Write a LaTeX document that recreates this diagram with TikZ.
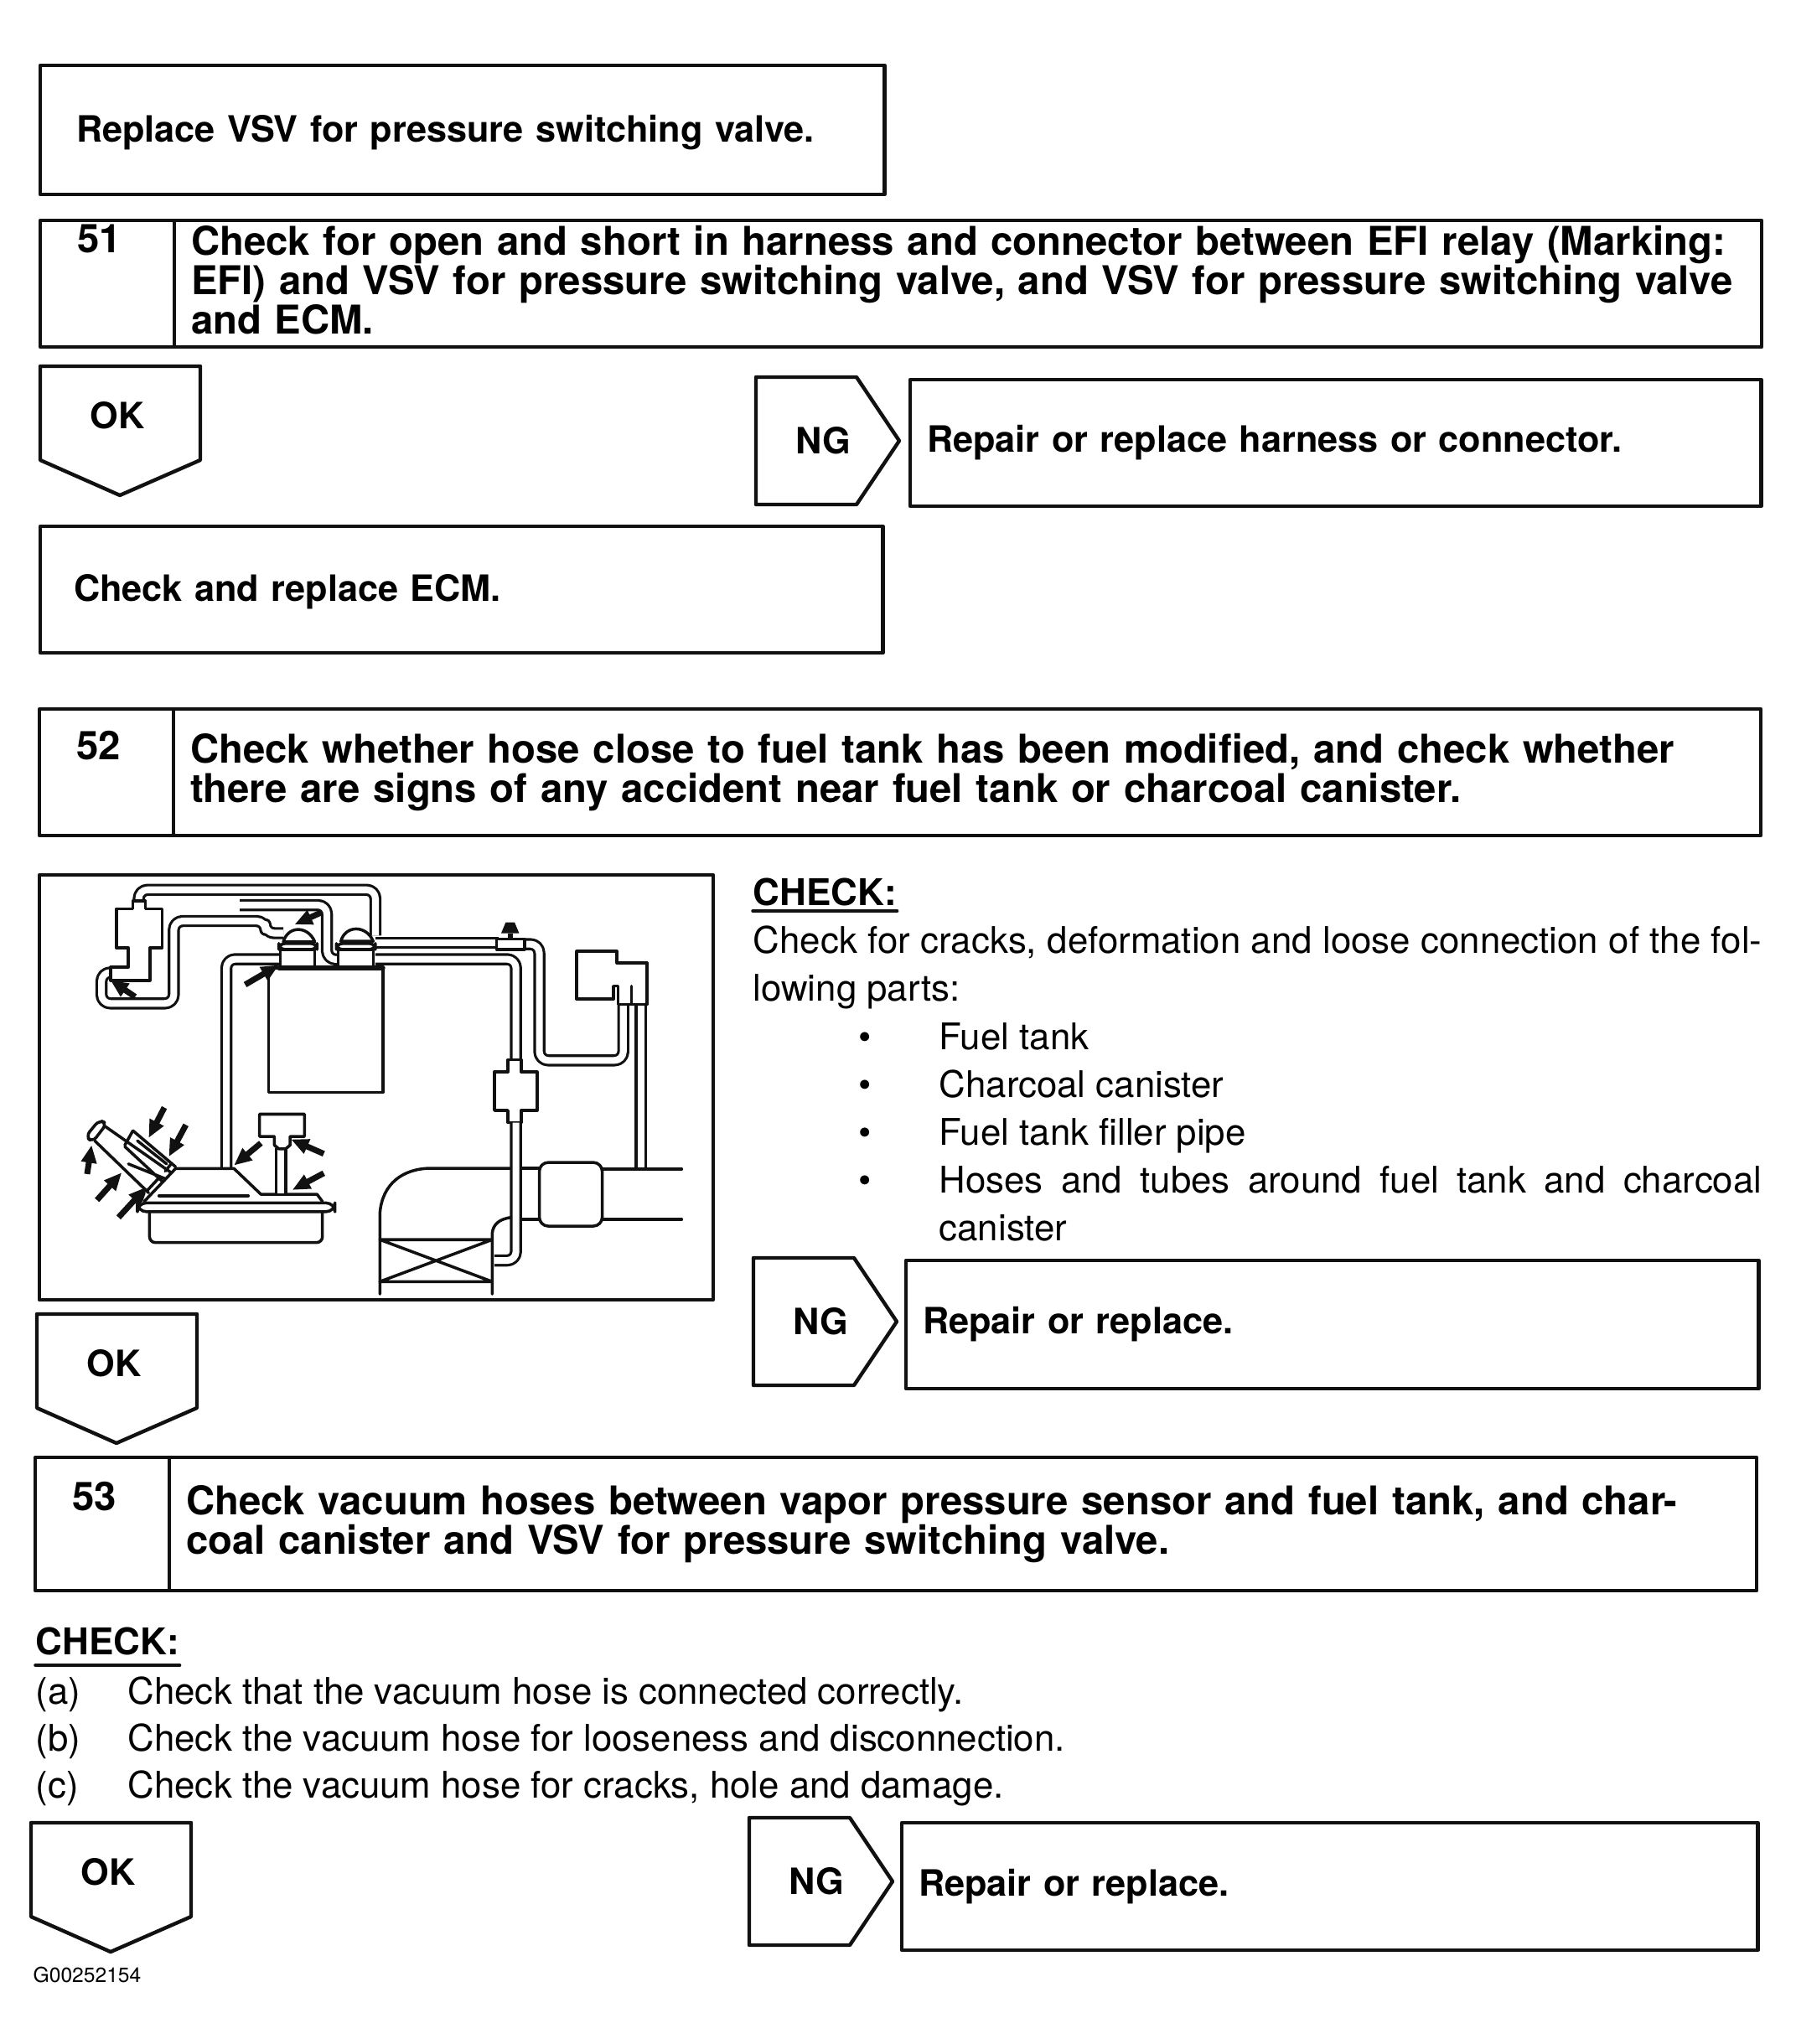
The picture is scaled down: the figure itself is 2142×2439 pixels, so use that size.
\documentclass[tikz,border=0pt]{standalone}
\usepackage{fontspec}
\setmainfont{TeX Gyre Heros}
\usetikzlibrary{arrows.meta, positioning}
\definecolor{ink}{HTML}{111111}
\tikzset{
  every picture/.style={line cap=round, line join=round},
  boxline/.style={draw=ink, line width=1.25pt, outer sep=0pt},
  msgbox/.style n args={3}{boxline, anchor=north west, minimum width=#1cm, minimum height=#2cm,
                text width={#1cm-2*#3cm}, inner xsep=0pt, inner ysep=0pt, align=left, font=\msgfont},
  stepcell/.style n args={2}{msgbox={#1}{#2}{0.2}, font=\headfont},
  numcell/.style n args={2}{boxline, anchor=north west, text width=1.6cm, inner sep=0pt,
                text height=#2cm, text depth={#1cm-#2cm}, align=left, font=\headfont,
                execute at begin node=\hspace*{0.44cm}},
  flagtxt/.style={font=\msgfont, inner sep=0pt},
  head/.style={font=\chkfont, anchor=base west, inner sep=0pt},
  body/.style={font=\bodyfont, anchor=base west, inner sep=0pt},
  % OK and NG symbols
  okflag/.pic={
    \draw[boxline] (0,0) -- (191,0) -- (191,112) -- (95,154) -- (0,112) -- cycle;
    \node[flagtxt] (-txt) at (92,59) {OK};
  },
  ngflag/.pic={
    \draw[boxline] (0,0) -- (120,0) -- (171,76) -- (120,152) -- (0,152) -- cycle;
    \node[flagtxt] (-txt) at (80,76) {NG};
  },
  % drawing
  wire/.style={draw=ink, line width=1pt},
  part/.style={wire, fill=white},
  hose/.style={draw=ink, line width=0.9pt, double=white, double distance=2.3pt, rounded corners=3pt, line cap=butt},
  pointer/.style={draw=ink, line width=2pt, -{Triangle[length=6pt, width=5pt]}, line cap=butt},
}
\newcommand\headfont{\bfseries\fontsize{13.45}{13.3}\selectfont}
\newcommand\msgfont{\bfseries\fontsize{12.3}{13.3}\selectfont}
\newcommand\chkfont{\bfseries\fontsize{12.5}{13.3}\selectfont}
\newcommand\bodyfont{\fontsize{12.45}{14}\selectfont}
\begin{document}
\begin{tikzpicture}[x=0.01cm, y=-0.01cm]
  \useasboundingbox (0,0) rectangle (2142,2439);
  % step boxes
  \node[msgbox={10.07}{1.54}{0.43}] (replace) at (48,78) {\rule{0pt}{0.38cm}Replace VSV for pressure switching valve.};
  \node[numcell={1.51}{0.38}] (n51) at (48,263) {51};
  \node[stepcell={18.93}{1.51}] (t51) at (208,263) {Check for open and short in harness and connector between EFI relay (Marking:\\EFI) and VSV for pressure switching valve, and VSV for pressure switching valve\\and ECM.\vspace{0.09cm}};
  \pic (ok51) at (48,437) {okflag};
  \pic (ng51) at (902,450) {ngflag};
  \node[msgbox={10.15}{1.51}{0.2}] (fix51) at (1086,453) {Repair or replace harness or connector.};
  \node[msgbox={10.05}{1.51}{0.4}] (ecm) at (48,628) {\rule{0pt}{0.38cm}Check and replace ECM.};
  \node[numcell={1.51}{0.6}] (n52) at (47,846) {52};
  \node[stepcell={18.93}{1.51}] (t52) at (207,846) {Check whether hose close to fuel tank has been modified, and check whether\\there are signs of any accident near fuel tank or charcoal canister.};
  % check list
  \node[head] (chk52) at (898,1080) {CHECK:};
  \draw[wire] ([yshift=-0.07cm]chk52.base west) -- ([yshift=-0.07cm]chk52.base east);
  \node[body] (l1) at (898,1137) {\makebox[12.03cm][s]{Check for cracks, deformation and loose connection of the fol-}};
  \node[body] (l2) at (898,1194) {lowing parts:};
  \foreach \y/\t/\n in {1252/Fuel tank/a, 1309/Charcoal canister/b, 1366/Fuel tank filler pipe/c} {
    \node[body] (dot\n) at (1024,\y) {•};
    \node[body] (item\n) at (1120,\y) {\t};
  }
  \node[body] (dotd) at (1024,1423) {•};
  \node[body] (itemd) at (1120,1423) {\makebox[9.81cm][s]{Hoses and tubes around fuel tank and charcoal}};
  \node[body] (iteme) at (1120,1480) {canister};
  \pic (ng52) at (899,1501) {ngflag};
  \node[msgbox={10.17}{1.53}{0.2}] (fix52) at (1081,1504) {Repair or replace.};
  \pic (ok52) at (44,1568) {okflag};
  \node[numcell={1.59}{0.63}] (n53) at (42,1739) {53};
  \node[stepcell={18.93}{1.59}] (t53) at (202,1739) {Check vacuum hoses between vapor pressure sensor and fuel tank, and char-\\coal canister and VSV for pressure switching valve.};
  \node[head] (chk53) at (42,1974) {CHECK:};
  \draw[wire] ([yshift=-0.13cm]chk53.base west) -- ([yshift=-0.13cm]chk53.base east);
  \foreach \y/\m/\t/\n in {2033/(a)/Check that the vacuum hose is connected correctly./a,
      2089/(b)/Check the vacuum hose for looseness and disconnection./b,
      2145/(c)/{Check the vacuum hose for cracks, hole and damage.}/c} {
    \node[body] (mark\n) at (42,\y) {\m};
    \node[body] (line\n) at (152,\y) {\t};
  }
  \pic (ok53) at (37,2175) {okflag};
  \pic (ng53) at (894,2169) {ngflag};
  \node[msgbox={10.21}{1.52}{0.2}] (fix53) at (1076,2175) {Repair or replace.};
  \node[anchor=base west, inner sep=0pt, font=\fontsize{7}{8}\selectfont] (code) at (39,2365) {G00252154};
  % figure
  \draw[boxline] (47,1044) rectangle (851,1551);
  \begin{scope}[shift={(30,1030)}, x=0.005357cm, y=-0.003444cm]
    % hoses
    \draw[hose] (253,135) -- (253,92) -- (780,92) -- (780,250);
    \draw[hose] (575,242) -- (535,242) -- (535,200) -- (331,200) -- (331,485) -- (170,485) -- (170,378) -- (195,378);
    \draw[hose] (478,145) -- (672,145) -- (672,333) -- (700,333);
    \draw[hose] (570,332) -- (448,332) -- (448,1056);
    \draw[hose] (780,275) -- (1055,275);
    \draw[hose] (1105,280) -- (1145,280) -- (1145,682) -- (1332,682) -- (1332,485);
    \draw[hose] (780,332) -- (1093,332) -- (1093,685);
    \draw[hose] (1371,485) -- (1371,1058);
    % canister
    \draw[part] (542,362) rectangle (797,793);
    \draw[wire, line width=1.5pt] (565,362) -- (797,362);
    \draw[part] (568,298) rectangle (645,360);
    \draw[part] (697,298) rectangle (775,360);
    \draw[part] (575,272) .. controls (585,215) and (630,215) .. (645,272) -- cycle;
    \draw[part] (703,270) .. controls (713,213) and (760,213) .. (775,270) -- cycle;
    \draw[part, rounded corners=2pt] (565,278) rectangle (650,298);
    \draw[part, rounded corners=2pt] (693,278) rectangle (780,298);
    % valve on the left
    \draw[part] (240,130) -- (268,130) -- (268,158) -- (305,158) -- (305,293) -- (278,293) -- (278,405) -- (190,405) -- (190,360) -- (230,360) -- (230,293) -- (203,293) -- (203,158) -- (240,158) -- cycle;
    % connector and cap
    \draw[part] (1050,262) rectangle (1112,298);
    \fill[ink] (1060,242) -- (1070,205) -- (1090,205) -- (1100,242) -- cycle;
    \fill[ink] (1074,242) rectangle (1086,262);
    % sensor
    \draw[part] (1228,305) -- (1318,305) -- (1318,345) -- (1385,345) -- (1385,488) -- (1320,488) -- (1320,425) -- (1310,425) -- (1310,470) -- (1228,470) -- cycle;
    \draw[wire] (1350,425) -- (1350,488);
    % filter on the hose
    \draw[part] (1075,722) -- (1075,680) -- (1105,680) -- (1105,722) -- (1140,722) -- (1140,855) -- (1105,855) -- (1105,897) -- (1075,897) -- (1075,855) -- (1045,855) -- (1045,722) -- cycle;
    % intake pipe
    \draw[wire] (790,1490) -- (790,1210) .. controls (795,1110) and (840,1055) .. (905,1055) -- (1083,1055);
    \draw[wire] (1102,1055) -- (1145,1055) (1102,1232) -- (1145,1232);
    \draw[wire] (1040,1490) -- (1040,1280) .. controls (1042,1250) and (1055,1230) .. (1083,1225);
    \draw[part, rounded corners=3pt] (1145,1035) rectangle (1285,1255);
    \draw[wire] (1285,1058) -- (1462,1058) (1285,1232) -- (1462,1232);
    \draw[wire] (790,1302) -- (1040,1302) (790,1447) -- (1040,1447) (790,1302) -- (1040,1447) (790,1447) -- (1040,1302);
    \draw[hose] (1093,897) -- (1093,1374) -- (1045,1374);
    % throttle body
    \draw[wire] (335,1056) -- (465,1056) -- (525,1145) -- (650,1145) -- (662,1170);
    \draw[wire] (298,1150) -- (497,1150);
    \draw[wire] (335,1056) -- (265,1170);
    \draw[part, rounded corners=3pt] (250,1175) rectangle (690,1205);
    \draw[wire, rounded corners=2pt] (277,1205) -- (277,1312) -- (662,1312) -- (662,1205);
    % injector assembly
    \draw[wire] (155,960) -- (275,1140) (178,910) -- (325,1070);
    \draw[part, rounded corners=2pt] (135,945) -- (165,888) -- (182,900) -- (150,965) -- cycle;
    \draw[wire] (230,1040) -- (310,1090) (222,980) -- (305,1100) (240,925) -- (335,1050) (240,925) -- (222,975) (250,960) -- (315,1040);
    \draw[wire] (300,1085) -- (270,1135) (325,1040) -- (312,1065);
    \draw[wire] (265,1140) -- (258,1170);
    % pressure sensor
    \draw[hose] (570,985) -- (570,1142);
    \draw[part] (522,868) -- (622,868) -- (622,945) -- (590,945) -- (590,975) -- (580,988) -- (565,988) -- (555,975) -- (555,945) -- (522,945) -- cycle;
    % pointers
    \draw[pointer] (660,170) -- (600,212);
    \draw[pointer] (490,420) -- (565,352);
    \draw[pointer] (245,462) -- (190,405);
    \draw[pointer] (310,845) -- (275,950);
    \draw[pointer] (358,905) -- (320,1015);
    \draw[pointer] (138,1075) -- (148,975);
    \draw[pointer] (160,1165) -- (215,1070);
    \draw[pointer] (208,1225) -- (270,1120);
    \draw[pointer] (525,968) -- (465,1045);
    \draw[pointer] (665,1005) -- (592,955);
    \draw[pointer] (665,1072) -- (595,1130);
  \end{scope}
\end{tikzpicture}
\end{document}
